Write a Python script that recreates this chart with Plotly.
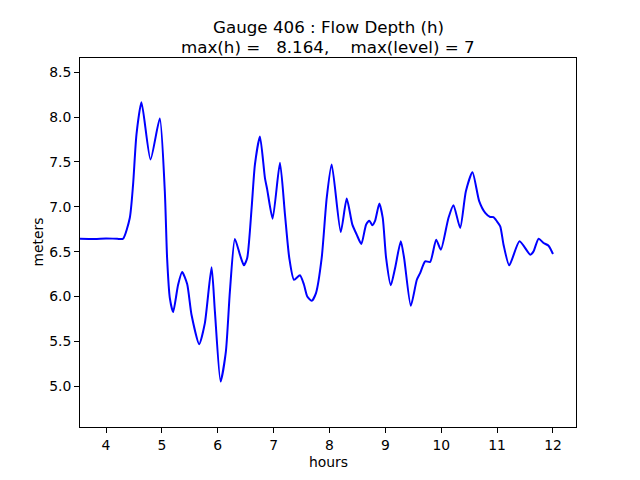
import plotly.graph_objects as go

hours = [3.53, 3.8, 4.0, 4.2, 4.305, 4.425, 4.484, 4.545, 4.634, 4.796, 4.962, 5.052, 5.093, 5.142,
         5.201, 5.290, 5.362, 5.452, 5.530, 5.667, 5.769, 5.889, 5.948, 6.050, 6.145, 6.217,
         6.306, 6.396, 6.468, 6.527, 6.606, 6.665, 6.755, 6.844, 6.885, 6.982, 7.113, 7.203,
         7.280, 7.364, 7.471, 7.543, 7.602, 7.681, 7.758, 7.860, 7.950, 8.039, 8.201, 8.308,
         8.409, 8.487, 8.570, 8.654, 8.713, 8.767, 8.815, 8.892, 8.953, 9.013, 9.097, 9.174,
         9.276, 9.335, 9.455, 9.563, 9.622, 9.712, 9.801, 9.909, 9.993, 10.129, 10.219, 10.339,
         10.441, 10.559, 10.679, 10.787, 10.876, 10.935, 10.996, 11.056, 11.115, 11.217, 11.401,
         11.593, 11.652, 11.742, 11.832, 11.921, 12.000]
depth = [6.645, 6.642, 6.648, 6.644, 6.645, 6.876, 7.248, 7.806, 8.164, 7.527, 7.984, 7.174, 6.430, 5.983,
         5.827, 6.132, 6.273, 6.140, 5.797, 5.470, 5.704, 6.326, 5.838, 5.054, 5.388, 6.058,
         6.642, 6.467, 6.348, 6.430, 6.988, 7.471, 7.783, 7.323, 7.192, 6.868, 7.490, 6.913,
         6.430, 6.187, 6.237, 6.132, 6.002, 5.953, 6.039, 6.430, 7.099, 7.471, 6.720, 7.092,
         6.801, 6.690, 6.586, 6.801, 6.846, 6.795, 6.843, 7.036, 6.876, 6.430, 6.125, 6.318,
         6.616, 6.430, 5.897, 6.187, 6.262, 6.393, 6.385, 6.634, 6.522, 6.876, 7.018, 6.765,
         7.174, 7.386, 7.063, 6.932, 6.887, 6.884, 6.839, 6.783, 6.578, 6.348, 6.616,
         6.467, 6.504, 6.645, 6.597, 6.567, 6.474]

x_ticks = [4, 5, 6, 7, 8, 9, 10, 11, 12]
y_ticks = [5.0, 5.5, 6.0, 6.5, 7.0, 7.5, 8.0, 8.5]
y_tick_labels = ["5.0", "5.5", "6.0", "6.5", "7.0", "7.5", "8.0", "8.5"]

nb = "\u00a0"
title_line1 = "Gauge 406 : Flow Depth (h)"
title_line2 = "max(h) =" + nb * 3 + "8.164," + nb * 4 + "max(level) = 7"

fig = go.Figure()
fig.add_trace(go.Scatter(x=hours, y=depth, mode="lines",
                         line=dict(color="#0000ff", width=2, shape="spline", smoothing=0.6),
                         showlegend=False, hoverinfo="skip"))

font = "DejaVu Sans"
axis_common = dict(showline=True, linecolor="black", linewidth=1, mirror=True,
                   ticks="outside", ticklen=5, tickwidth=1, tickcolor="black",
                   showgrid=False, zeroline=False,
                   tickfont=dict(family=font, size=13.9, color="black"))

title_font = dict(family=font, size=16.7, color="black")
label_font = dict(family=font, size=13.9, color="black")

fig.update_layout(
    width=632, height=472,
    margin=dict(l=72, r=64, t=50, b=53),
    paper_bgcolor="white", plot_bgcolor="white",
    xaxis=dict(range=[3.534, 12.412], tickvals=x_ticks, **axis_common),
    yaxis=dict(range=[4.547, 8.658], tickvals=y_ticks, ticktext=y_tick_labels, **axis_common),
    annotations=[
        dict(text=title_line1, xref="paper", yref="paper", x=0.5, y=1, xanchor="center",
             yanchor="middle", yshift=31, showarrow=False, font=title_font),
        dict(text=title_line2, xref="paper", yref="paper", x=0.5, y=1, xanchor="center",
             yanchor="middle", yshift=11, showarrow=False, font=title_font),
        dict(text="hours", xref="paper", yref="paper", x=0.5, y=0, xanchor="center",
             yanchor="middle", yshift=-35, showarrow=False, font=label_font),
        dict(text="meters", xref="paper", yref="paper", x=0, y=0.5, xanchor="center",
             yanchor="middle", xshift=-43, textangle=-90, showarrow=False, font=label_font),
    ],
)

fig.write_html("out.html")
